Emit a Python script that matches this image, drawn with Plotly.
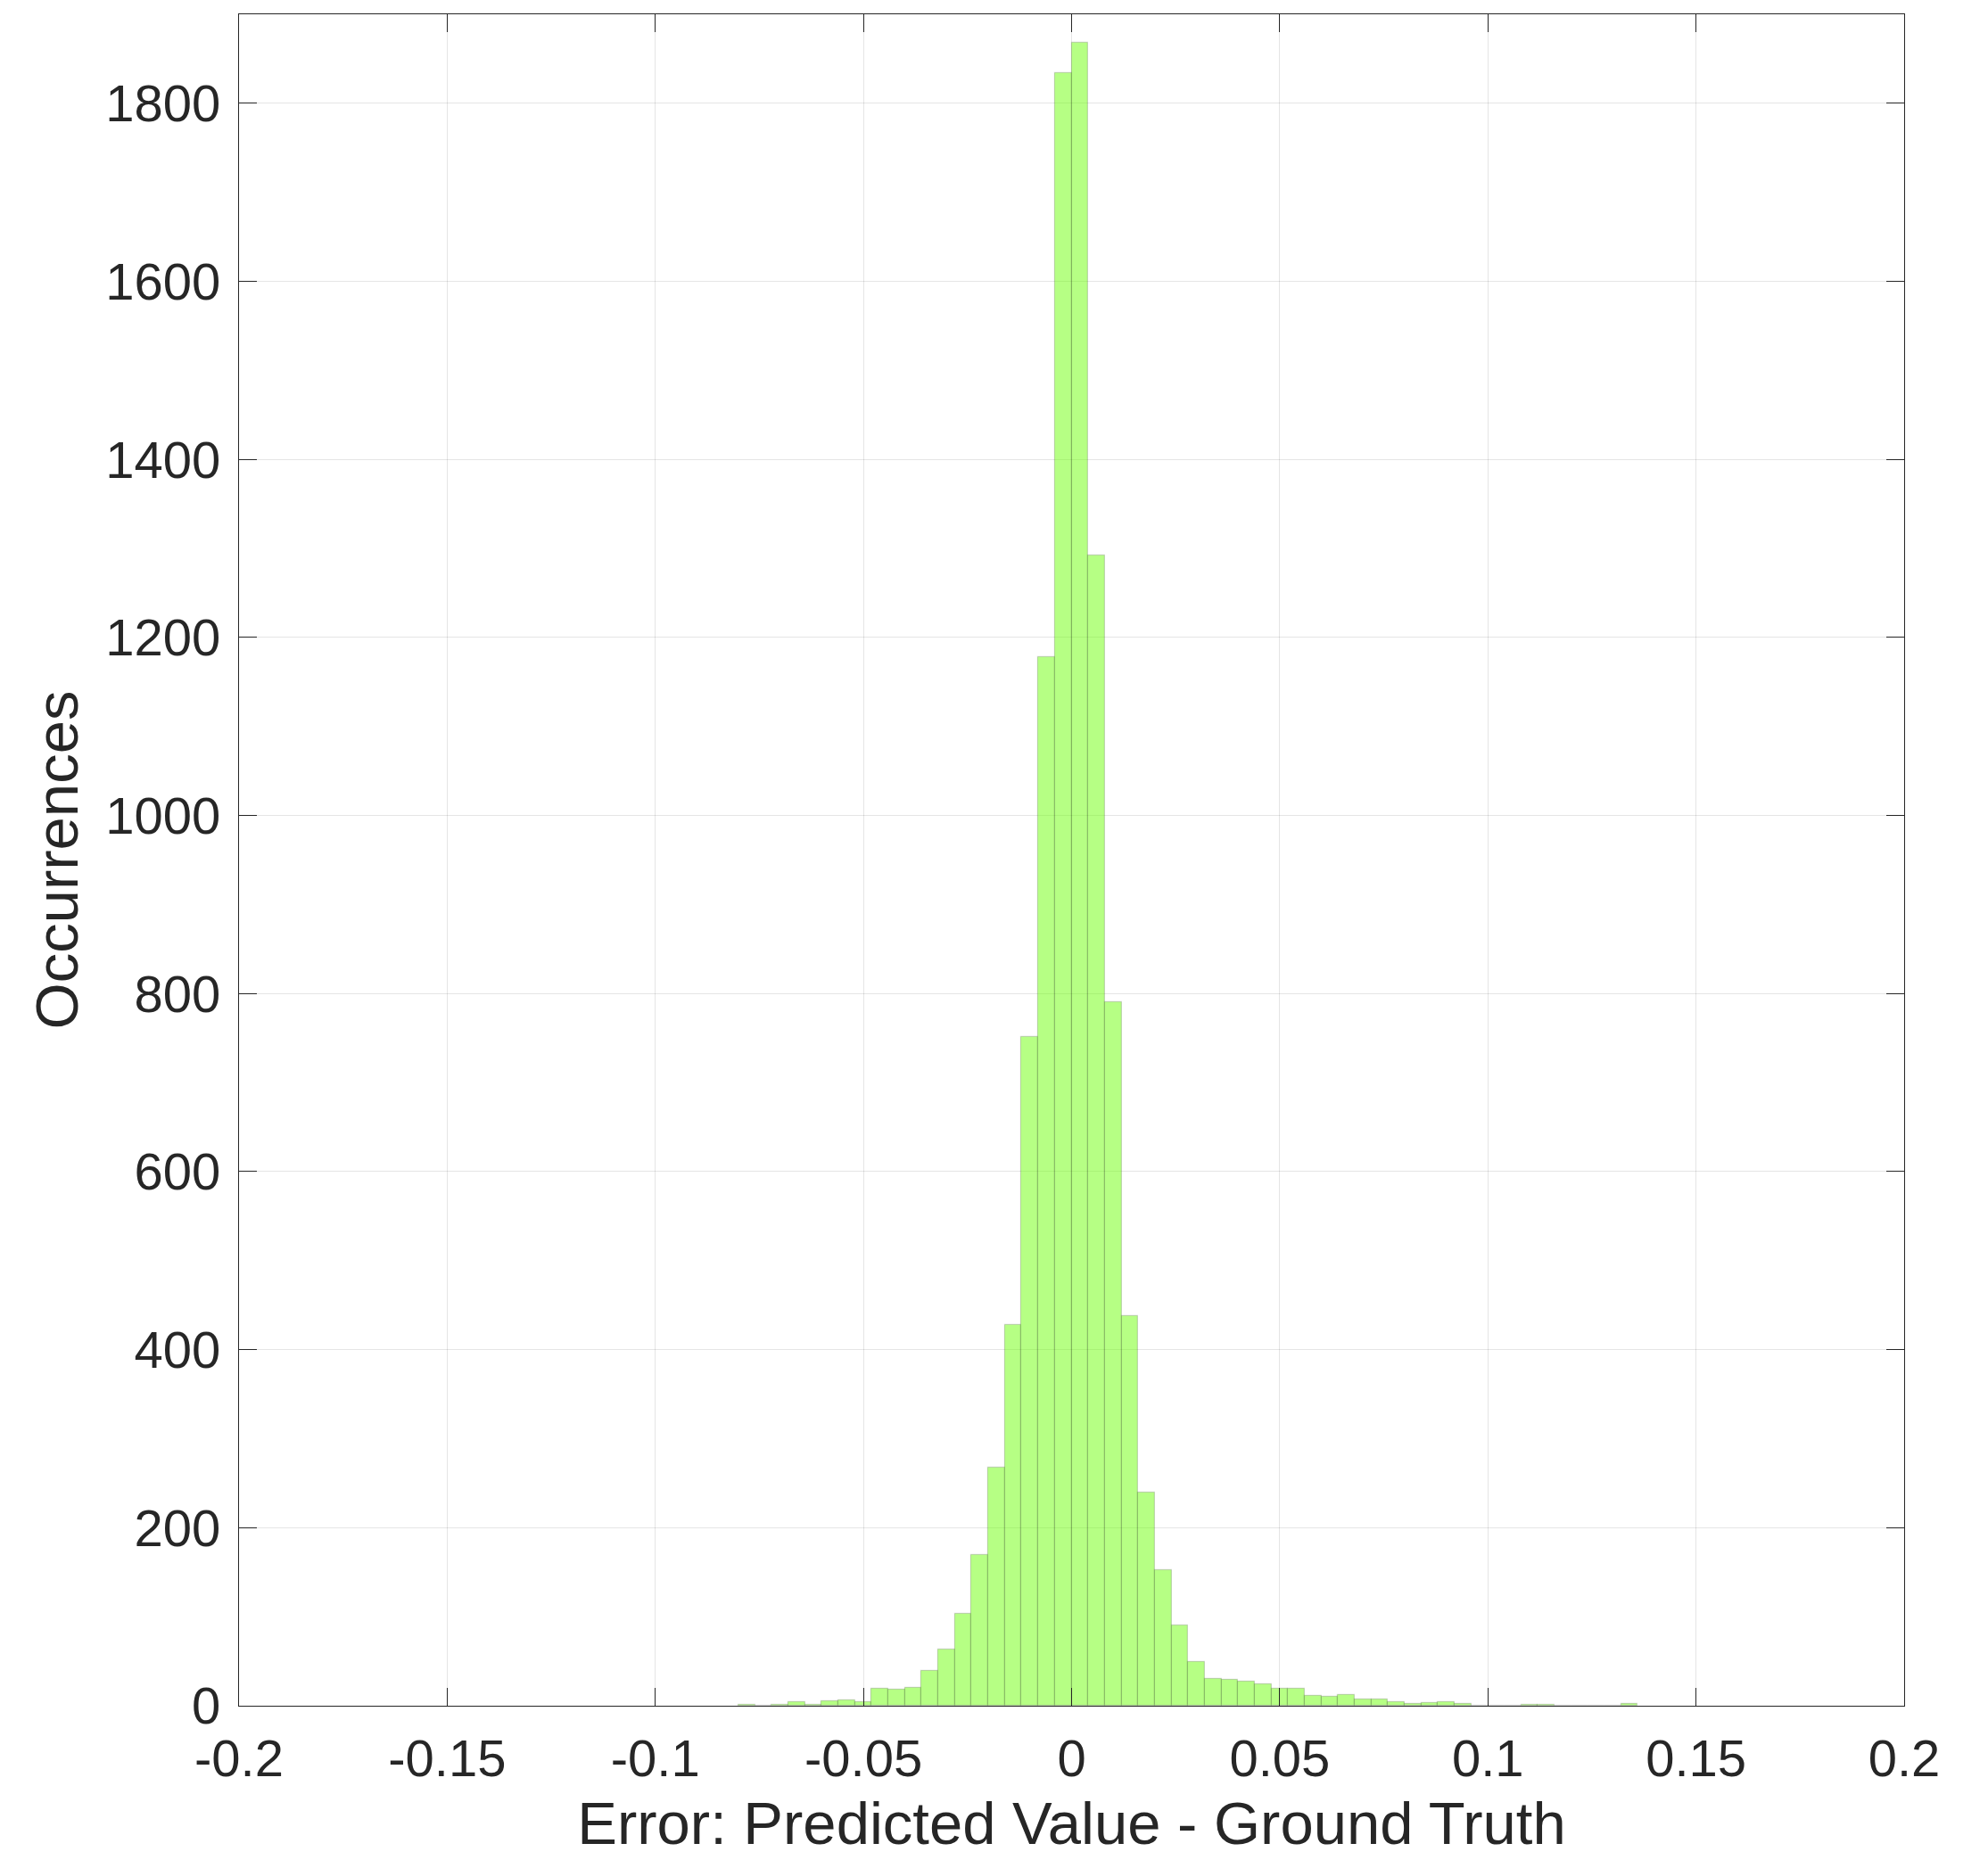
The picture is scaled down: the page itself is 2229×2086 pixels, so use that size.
import plotly.graph_objects as go

# Histogram bins (left edges) and counts, bin width 0.004
bin_left = [-0.080, -0.076, -0.072, -0.068, -0.064, -0.060, -0.056, -0.052,
            -0.048, -0.044, -0.040, -0.036, -0.032, -0.028, -0.024, -0.020,
            -0.016, -0.012, -0.008, -0.004, 0.000, 0.004, 0.008, 0.012,
            0.016, 0.020, 0.024, 0.028, 0.032, 0.036, 0.040, 0.044,
            0.048, 0.052, 0.056, 0.060, 0.064, 0.068, 0.072, 0.076,
            0.080, 0.084, 0.088, 0.092, 0.096, 0.100, 0.104, 0.108,
            0.112, 0.116, 0.120, 0.124, 0.128, 0.132]
counts = [1, 0, 1, 4, 1, 5, 6, 4,
          19, 18, 20, 39, 63, 103, 169, 267,
          428, 751, 1178, 1834, 1868, 1292, 790, 438,
          239, 152, 90, 49, 30, 29, 27, 24,
          19, 19, 11, 10, 12, 7, 7, 4,
          2, 3, 4, 2, 0, 0, 0, 1,
          1, 0, 0, 0, 0, 2]
bin_width = 0.004

x_ticks = [-0.2, -0.15, -0.1, -0.05, 0, 0.05, 0.1, 0.15, 0.2]
x_ticktext = ["-0.2", "-0.15", "-0.1", "-0.05", "0", "0.05", "0.1", "0.15", "0.2"]
y_ticks = [0, 200, 400, 600, 800, 1000, 1200, 1400, 1600, 1800]
y_ticktext = [str(v) for v in y_ticks]

centers = [b + bin_width / 2 for b in bin_left]

FONT = "Liberation Sans, Arial, Helvetica, sans-serif"
INK = "#262626"

fig = go.Figure()
fig.add_trace(go.Bar(
    x=centers, y=counts, width=[bin_width] * len(centers),
    marker=dict(color="rgba(110,255,10,0.5)",
                line=dict(color="rgba(0,0,0,0.16)", width=1.2)),
    showlegend=False,
))

axis_common = dict(
    showline=True, linecolor=INK, linewidth=1.3, mirror="ticks",
    ticks="inside", ticklen=20, tickwidth=1.3, tickcolor=INK,
    showgrid=True, gridcolor="rgba(0,0,0,0.1)", gridwidth=1,
    zeroline=False,
    tickfont=dict(family=FONT, size=58, color=INK),
)

fig.update_layout(
    width=2229, height=2086,
    margin=dict(l=268, r=94, t=16, b=173),
    paper_bgcolor="white", plot_bgcolor="white",
    bargap=0,
    font=dict(family=FONT, color=INK),
    xaxis=dict(
        range=[-0.2, 0.2], tickvals=x_ticks, ticktext=x_ticktext,
        title=dict(text="Error: Predicted Value - Ground Truth",
                   font=dict(family=FONT, size=67, color=INK), standoff=18),
        ticklabelstandoff=8,
        **axis_common,
    ),
    yaxis=dict(
        range=[0, 1900], tickvals=y_ticks, ticktext=y_ticktext,
        title=dict(text="Occurrences",
                   font=dict(family=FONT, size=67, color=INK), standoff=8),
        ticklabelstandoff=8,
        **axis_common,
    ),
)

fig.write_html("out.html")
